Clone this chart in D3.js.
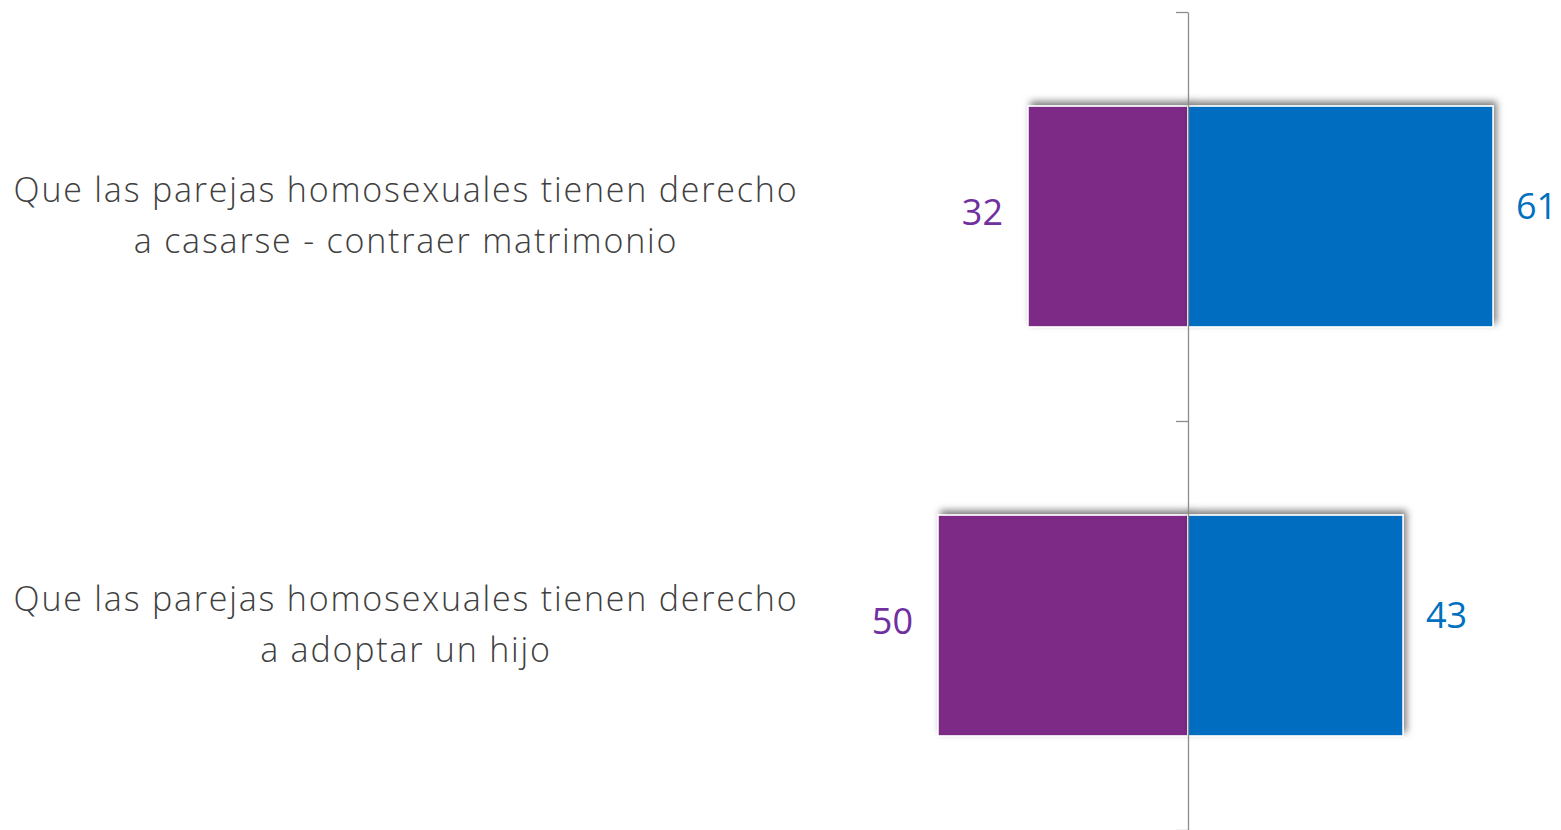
<!DOCTYPE html>
<html>
<head>
<meta charset="utf-8">
<script src="https://cdn.jsdelivr.net/npm/d3@7"></script>
<style>
  html, body { margin: 0; padding: 0; background: #fff; }
  svg { display: block; }
</style>
</head>
<body>
<div id="chart"></div>
<script>
// data
var categories = [
  ["Que las parejas homosexuales tienen derecho", "a casarse - contraer matrimonio"],
  ["Que las parejas homosexuales tienen derecho", "a adoptar un hijo"]
];
var desacuerdo = [32, 50];   // purple, left
var acuerdo = [61, 43];      // blue, right

var width = 1561, height = 830;
var purple = "#7B2C86", blue = "#006DC1";
var purpleText = "#7030A0", blueText = "#0070C0";

var svg = d3.select("#chart").append("svg")
  .attr("width", width)
  .attr("height", height);

// drop shadow
var defs = svg.append("defs");
var f = defs.append("filter").attr("id", "shadow")
  .attr("x", "-10%").attr("y", "-10%").attr("width", "120%").attr("height", "120%");
f.append("feDropShadow")
  .attr("dx", 3).attr("dy", -4)
  .attr("stdDeviation", 3.5)
  .attr("flood-color", "#000")
  .attr("flood-opacity", 0.5);

var idx = d3.range(categories.length);

//scales
var x = d3.scaleLinear().domain([-75, 75]).range([813, 1563]);
var y = d3.scaleBand().domain(idx).range([12, 830])
  .paddingInner(0.46).paddingOuter(0.23);

// bars
var bars = svg.append("g");
bars.selectAll("rect.neg")
  .data(idx)
  .enter().append("rect")
  .attr("class", "neg")
  .attr("x", function(i){ return x(-desacuerdo[i]); })
  .attr("y", function(i){ return y(i); })
  .attr("width", function(i){ return x(0) - x(-desacuerdo[i]); })
  .attr("height", y.bandwidth())
  .attr("fill", purple)
  .attr("stroke", "#fff")
  .attr("stroke-width", 1.5)
  .attr("filter", "url(#shadow)");

bars.selectAll("rect.pos")
  .data(idx)
  .enter().append("rect")
  .attr("class", "pos")
  .attr("x", x(0))
  .attr("y", function(i){ return y(i); })
  .attr("width", function(i){ return x(acuerdo[i]) - x(0); })
  .attr("height", y.bandwidth())
  .attr("fill", blue)
  .attr("stroke", "#fff")
  .attr("stroke-width", 1.5)
  .attr("filter", "url(#shadow)");

// axis at zero, ticks at band edges
var yEdge = d3.scaleLinear().domain([0, categories.length]).range(y.range());
var axis = svg.append("g")
  .attr("transform", "translate(" + x(0) + ",0)")
  .call(d3.axisLeft(yEdge).tickValues(d3.range(categories.length + 1))
    .tickFormat("").tickSize(12).tickSizeOuter(0));
axis.select(".domain").attr("stroke", "#8c8c8c").attr("stroke-width", 1.3);
axis.selectAll(".tick line").attr("stroke", "#8c8c8c").attr("stroke-width", 1.3);

// value labels
svg.selectAll("text.vneg")
  .data(idx)
  .enter().append("text")
  .attr("class", "vneg")
  .attr("x", function(i){ return x(-desacuerdo[i]) - 25; })
  .attr("y", function(i){ return y(i) + y.bandwidth() / 2 - 1; })
  .attr("text-anchor", "end")
  .attr("dominant-baseline", "middle")
  .attr("font-family", "'Open Sans', sans-serif")
  .attr("font-size", 36)
  .attr("fill", purpleText)
  .text(function(i){ return desacuerdo[i]; });

svg.selectAll("text.vpos")
  .data(idx)
  .enter().append("text")
  .attr("class", "vpos")
  .attr("x", function(i){ return x(acuerdo[i]) + 23; })
  .attr("y", function(i){ return y(i) + y.bandwidth() / 2 - 7; })
  .attr("text-anchor", "start")
  .attr("dominant-baseline", "middle")
  .attr("font-family", "'Open Sans', sans-serif")
  .attr("font-size", 36)
  .attr("fill", blueText)
  .text(function(i){ return acuerdo[i]; });

// category labels
var cat = svg.selectAll("text.cat")
  .data(idx)
  .enter().append("text")
  .attr("class", "cat")
  .attr("x", 405)
  .attr("text-anchor", "middle")
  .attr("font-family", "'Open Sans', sans-serif")
  .attr("font-weight", 300)
  .attr("font-size", 34)
  .attr("letter-spacing", 1.8)
  .attr("fill", "#404040");

cat.each(function(i){
  var t = d3.select(this);
  var mid = y(i) + y.bandwidth() / 2;
  categories[i].forEach(function(line, k){
    t.append("tspan")
      .attr("x", 406)
      .attr("y", mid - 23.5 + k * 51)
      .attr("dominant-baseline", "middle")
      .text(line);
  });
});
</script>
</body>
</html>
